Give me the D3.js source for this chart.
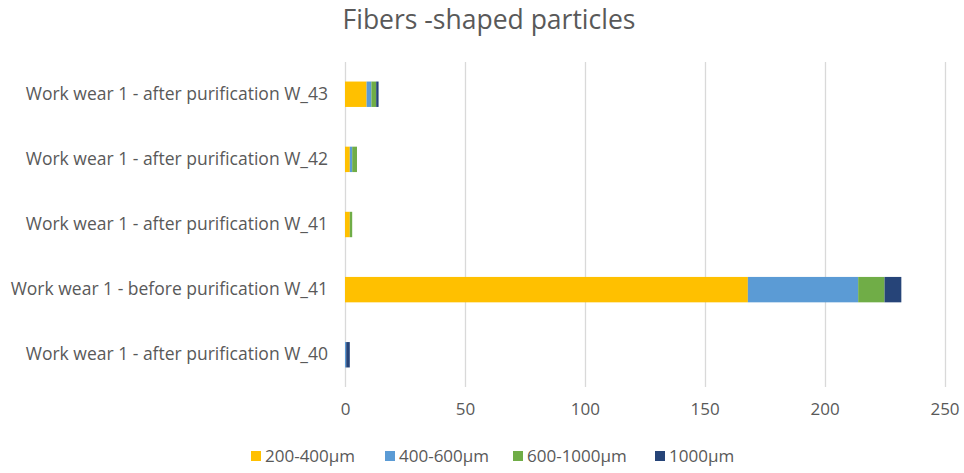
<!DOCTYPE html>
<html>
<head>
<meta charset="utf-8">
<script src="https://cdn.jsdelivr.net/npm/d3@7"></script>
<style>
  body { margin: 0; background: #fff; }
  svg text { font-family: "Open Sans", "Liberation Sans", sans-serif; fill: #595959; }
</style>
</head>
<body>
<svg id="chart"></svg>
<script>
var width = 964, height = 473;

// data, top to bottom as drawn
var categories = [
  "Work wear 1 - after purification W_43",
  "Work wear 1 - after purification W_42",
  "Work wear 1 - after purification W_41",
  "Work wear 1 - before purification W_41",
  "Work wear 1 - after purification W_40"
];
var seriesNames = ["200-400µm", "400-600µm", "600-1000µm", "1000µm"];
var s200_400 = [9, 2, 2, 168, 0];
var s400_600 = [2, 1, 0, 46, 0.5];
var s600_1000 = [2, 2, 1, 11, 0];
var s1000 = [1, 0, 0, 7, 1.5];
var xTicks = [0, 50, 100, 150, 200, 250];
var colors = ["#FFC000", "#5B9BD5", "#70AD47", "#264478"];

var margin = { top: 62, right: 20, bottom: 86, left: 345 };

var svg = d3.select("#chart").attr("width", width).attr("height", height);

var rows = categories.map(function(c, i) {
  return { cat: c, "200-400µm": s200_400[i], "400-600µm": s400_600[i],
           "600-1000µm": s600_1000[i], "1000µm": s1000[i] };
});

var x = d3.scaleLinear().domain([0, 250]).range([margin.left, 944.5]);
var y = d3.scaleBand().domain(categories)
  .range([margin.top, height - margin.bottom]).paddingInner(0.61).paddingOuter(0.3);
var color = d3.scaleOrdinal().domain(seriesNames).range(colors);

// title
svg.append("text")
  .attr("x", 489).attr("y", 29)
  .attr("text-anchor", "middle")
  .style("font-size", "26.5px")
  .text("Fibers -shaped particles");

// gridlines
svg.append("g").selectAll("line")
  .data(xTicks).enter().append("line")
  .attr("x1", function(d) { return Math.round(x(d)) + 0.5; })
  .attr("x2", function(d) { return Math.round(x(d)) + 0.5; })
  .attr("y1", margin.top).attr("y2", height - margin.bottom)
  .attr("stroke", "#d9d9d9").attr("stroke-width", 1.3);

// stacked bars
var stack = d3.stack().keys(seriesNames)(rows);
svg.append("g").selectAll("g")
  .data(stack).enter().append("g")
  .attr("fill", function(d) { return color(d.key); })
  .selectAll("rect")
  .data(function(d) { return d; }).enter().append("rect")
  .attr("x", function(d) { return x(d[0]); })
  .attr("width", function(d) { return x(d[1]) - x(d[0]); })
  .attr("y", function(d) { return y(d.data.cat); })
  .attr("height", y.bandwidth());

// x axis labels
var xAxis = svg.append("g")
  .attr("transform", "translate(0," + (height - margin.bottom) + ")")
  .call(d3.axisBottom(x).tickValues(xTicks).tickSize(0).tickPadding(16));
xAxis.select(".domain").remove();
xAxis.selectAll("text").style("font-size", "17px").style("fill", "#595959")
  .style("font-family", "'Open Sans', sans-serif");

// y axis labels
var yAxis = svg.append("g")
  .attr("transform", "translate(" + margin.left + ",0)")
  .call(d3.axisLeft(y).tickSize(0).tickPadding(17));
yAxis.select(".domain").remove();
yAxis.selectAll("text").style("font-size", "17.5px").style("fill", "#595959")
  .style("font-family", "'Open Sans', sans-serif");

// legend
var legendX = [251, 385, 513, 655];
var legend = svg.append("g").attr("transform", "translate(0,456)");
var items = legend.selectAll("g").data(seriesNames).enter().append("g")
  .attr("transform", function(d, i) { return "translate(" + legendX[i] + ",0)"; });
items.append("rect")
  .attr("x", 0).attr("y", -5).attr("width", 10).attr("height", 10)
  .attr("fill", function(d) { return color(d); });
items.append("text")
  .attr("x", 14).attr("y", 6)
  .style("font-size", "17px")
  .text(function(d) { return d; });
</script>
</body>
</html>
